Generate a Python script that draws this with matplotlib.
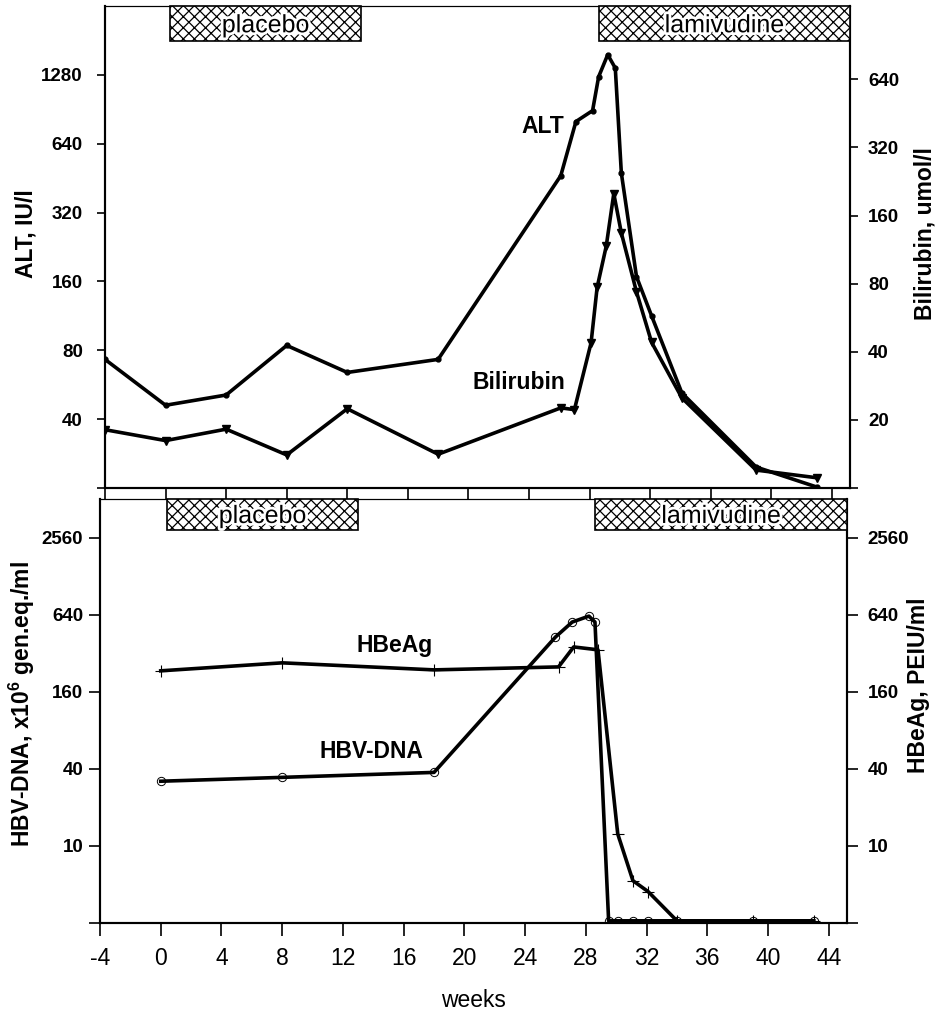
import matplotlib
matplotlib.use('Agg')
import matplotlib.pyplot as plt
from matplotlib.ticker import FixedLocator, FixedFormatter, NullLocator
from matplotlib.patches import Rectangle
import matplotlib.transforms as mtransforms
import matplotlib.patheffects as pe

plt.rcParams['font.family'] = ['Liberation Sans', 'DejaVu Sans']
plt.rcParams['mathtext.default'] = 'regular'
plt.rcParams['hatch.linewidth'] = 0.9
plt.rcParams['axes.unicode_minus'] = False

# ---------------- data ----------------
alt_weeks = [-4, 0, 4, 8, 12, 18, 26.1, 27.1, 28.2, 28.6, 29.2, 29.7, 30.1, 31.1, 32.1, 34.1, 39.0, 43.0]
alt_values = [73, 46, 51, 84, 64, 73, 464, 800, 893, 1256, 1568, 1370, 476, 168, 113, 52, 24.7, 20.2]

bili_weeks = [-4, 0, 4, 8, 12, 18, 26.1, 27.0, 28.1, 28.5, 29.1, 29.6, 30.1, 31.1, 32.1, 34.1, 39.0, 43.0]
bili_values = [18.1, 16.2, 18.2, 14.0, 22.4, 14.1, 22.6, 22.2, 43.8, 77, 117, 200, 134, 73.6, 44, 25, 12.0, 11.1]

hbv_weeks = [0, 8, 18, 26.0, 27.1, 28.2, 28.6, 29.5, 30.1, 31.1, 32.1, 34.0, 39.0, 43.0]
hbv_values = [32, 34.3, 37.5, 428, 560, 623, 560, 2.6, 2.6, 2.6, 2.6, 2.6, 2.6, 2.6]

hbe_weeks = [0, 8, 18, 26.2, 27.2, 28.8, 30.1, 31.1, 32.1, 34.0, 39.0, 43.0]
hbe_values = [233, 269, 237, 250, 358, 340, 12.4, 5.35, 4.4, 2.6, 2.6, 2.6]

week_ticks = [-4, 0, 4, 8, 12, 16, 20, 24, 28, 32, 36, 40, 44]
alt_ticks = [40, 80, 160, 320, 640, 1280]
bili_ticks = [20, 40, 80, 160, 320, 640]
dna_ticks = [10, 40, 160, 640, 2560]
hbe_ticks = [10, 40, 160, 640, 2560]

placebo_top = (0.3, 12.9)
lamivudine_top = (28.6, 45.2)
placebo_bottom = (0.4, 13.0)
lamivudine_bottom = (28.6, 45.2)

XLIM = (-4, 45.2)

fig = plt.figure(figsize=(9.43, 10.14), dpi=100)
W, H = 943, 1014

def ax_rect(l, t, r, b):
    return [l / W, 1 - b / H, (r - l) / W, (b - t) / H]

ax1 = fig.add_axes(ax_rect(105, 6, 850, 488))
ax2 = fig.add_axes(ax_rect(100, 499, 847, 923))

lab_font = dict(fontsize=16.5, fontweight='bold')


def setup_log(ax, lim, ticks, bottom_tick):
    ax.set_yscale('log', base=2)
    ax.set_ylim(*lim)
    ax.yaxis.set_major_locator(FixedLocator([bottom_tick] + ticks))
    ax.yaxis.set_major_formatter(FixedFormatter([''] + [str(t) for t in ticks]))
    ax.yaxis.set_minor_locator(NullLocator())


def add_box(ax, span, label):
    trans = mtransforms.blended_transform_factory(ax.transData, ax.transAxes)
    rect = Rectangle((span[0], 0.928), span[1] - span[0], 0.072, transform=trans,
                     facecolor='white', edgecolor='black', hatch='xxx', linewidth=1.2,
                     zorder=5, clip_on=False)
    ax.add_patch(rect)
    ax.text((span[0] + span[1]) / 2, 0.960, label, transform=trans, ha='center', va='center',
            fontsize=18, zorder=6,
            path_effects=[pe.withStroke(linewidth=4, foreground='white')])


for ax in (ax1, ax2):
    ax.set_xlim(*XLIM)
    ax.xaxis.set_major_locator(FixedLocator(week_ticks))
    for s in ax.spines.values():
        s.set_linewidth(1.5)
    ax.spines['top'].set_linewidth(0.8)

# ---------------- top panel ----------------
setup_log(ax1, (20, 2560), alt_ticks, 20)
ax1.plot(alt_weeks, alt_values, color='black', linewidth=2.6, marker='o', markersize=3.5, zorder=3)
ax1.tick_params(axis='x', direction='out', length=8, width=1.2, labelbottom=False)
ax1.tick_params(axis='y', direction='out', length=6, width=1.2, pad=10, labelsize=13.5)
for lab in ax1.get_yticklabels():
    lab.set_fontweight('bold')
ax1.set_ylabel('ALT, IU/l', **lab_font)
ax1.yaxis.set_label_coords(-0.09, 0.527)

ax1r = ax1.twinx()
setup_log(ax1r, (10, 1350), bili_ticks, 10)
ax1r.plot(bili_weeks, bili_values, color='black', linewidth=2.6, marker='v', markersize=6, zorder=3)
ax1r.tick_params(axis='y', direction='out', length=6, width=1.2, pad=7, labelsize=13.5)
for lab in ax1r.get_yticklabels():
    lab.set_fontweight('bold')
ax1r.set_ylabel('Bilirubin, umol/l', **lab_font)
ax1r.yaxis.set_label_coords(1.085, 0.527)
for s in ax1r.spines.values():
    s.set_linewidth(1.5)
ax1r.spines['top'].set_linewidth(0.8)

ax1.text(24.9, 760, 'ALT', ha='center', va='center', **lab_font)
ax1.text(23.3, 58, 'Bilirubin', ha='center', va='center', **lab_font)
add_box(ax1r, placebo_top, 'placebo')
add_box(ax1r, lamivudine_top, 'lamivudine')

# ---------------- bottom panel ----------------
setup_log(ax2, (2.5, 5120), dna_ticks, 2.5)
ax2.plot(hbv_weeks, hbv_values, color='black', linewidth=2.6, marker='o', markersize=6,
         markerfacecolor='none', markeredgewidth=0.7, zorder=3)
ax2.tick_params(axis='x', direction='out', length=9, width=1.2, pad=8, labelsize=16.5)
ax2.tick_params(axis='y', direction='out', length=8, width=1.2, pad=4, labelsize=13.5)
for lab in ax2.get_yticklabels():
    lab.set_fontweight('bold')
ax2.set_ylabel('HBV-DNA, x10$^{6}$ gen.eq./ml', **lab_font)
ax2.yaxis.set_label_coords(-0.084, 0.517)
ax2.set_xlabel('weeks', fontsize=16.5)
ax2.xaxis.set_label_coords(0.5, -0.155)

ax2r = ax2.twinx()
setup_log(ax2r, (2.5, 5120), hbe_ticks, 2.5)
ax2r.plot(hbe_weeks, hbe_values, color='black', linewidth=2.6, marker='+', markersize=9,
          markeredgewidth=0.8, zorder=3)
ax2r.tick_params(axis='y', direction='out', length=8, width=1.2, pad=7, labelsize=13.5)
for lab in ax2r.get_yticklabels():
    lab.set_fontweight('bold')
ax2r.set_ylabel('HBeAg, PEIU/ml', **lab_font)
ax2r.yaxis.set_label_coords(1.080, 0.561)
for s in ax2r.spines.values():
    s.set_linewidth(1.5)
ax2r.spines['top'].set_linewidth(0.8)

ax2.text(15.4, 366, 'HBeAg', ha='center', va='center', **lab_font)
ax2.text(13.9, 55, 'HBV-DNA', ha='center', va='center', **lab_font)
add_box(ax2r, placebo_bottom, 'placebo')
add_box(ax2r, lamivudine_bottom, 'lamivudine')

fig.savefig('out.png', dpi=100)
